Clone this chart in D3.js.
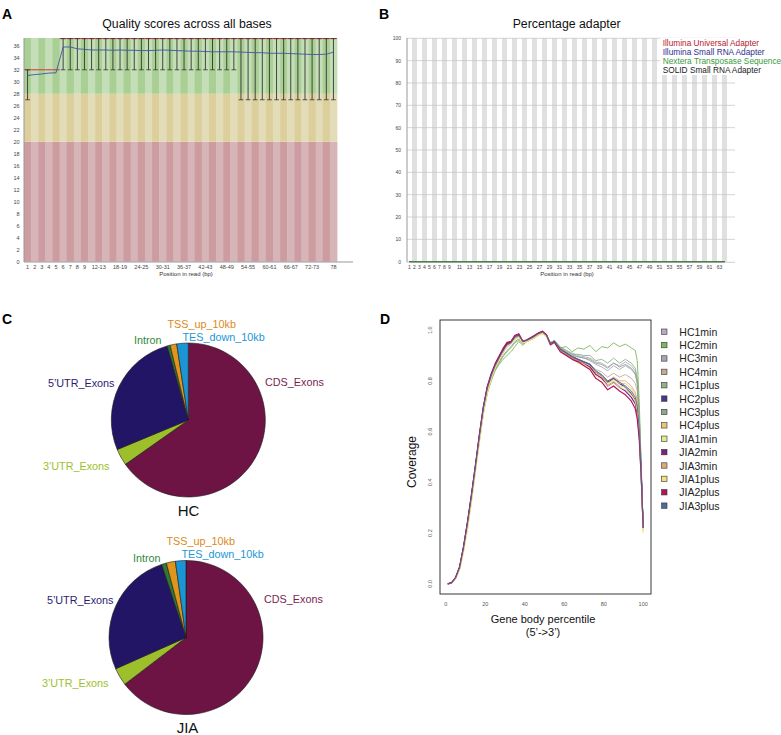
<!DOCTYPE html>
<html><head><meta charset="utf-8">
<script src="https://cdn.jsdelivr.net/npm/d3@7"></script>
<style>body{margin:0;background:#fff}svg{display:block;font-family:"Liberation Sans",Arial,Helvetica,sans-serif}</style>
</head><body><svg id="c" width="781" height="735"></svg>
<script>
// ---------------- DATA ----------------
// Panel A: per-base quality
const qBins = ["1","2","3","4","5","6","7","8","9","10-11","12-13","14-15","16-17","18-19","20-21","22-23","24-25","26-27","28-29","30-31","32-33","34-35","36-37","38-39","40-41","42-43","44-45","46-47","48-49","50-51","52-53","54-55","56-57","58-59","60-61","62-63","64-65","66-67","68-69","70-71","72-73","74-75","76-77","78"];
const qTickLabels = ["1","2","3","4","5","6","7","8","9","12-13","18-19","24-25","30-31","36-37","42-43","48-49","54-55","60-61","66-67","72-73","78"];
const qYTicks = [0,2,4,6,8,10,12,14,16,18,20,22,24,26,28,30,32,34,36];
const qMean = [31.05,31.2,31.3,31.45,31.5,35.8,35.8,35.5,35.4,35.3,35.3,35.3,35.25,35.3,35.25,35.25,35.2,35.2,35.25,35.3,35.25,35.2,35.15,35.1,35.1,35.05,35.0,35.0,35.0,35.0,34.95,34.9,34.85,34.85,34.75,34.75,34.75,34.7,34.65,34.6,34.55,34.55,34.6,34.95];
const qLow = [27,32,32,32,32,32,32,32,32,32,32,32,32,32,32,32,32,32,32,32,32,32,32,32,32,32,32,32,32,32,27,27,27,27,27,27,27,27,27,27,27,27,27,27];
const qHigh = [32,32,32,32,32,37.2,37.2,37.2,37.2,37.2,37.2,37.2,37.2,37.2,37.2,37.2,37.2,37.2,37.2,37.2,37.2,37.2,37.2,37.2,37.2,37.2,37.2,37.2,37.2,37.2,37.2,37.2,37.2,37.2,37.2,37.2,37.2,37.2,37.2,37.2,37.2,37.2,37.2,37.2];
const qMedian = [32,32,32,32,32,37.2,37.2,37.2,37.2,37.2,37.2,37.2,37.2,37.2,37.2,37.2,37.2,37.2,37.2,37.2,37.2,37.2,37.2,37.2,37.2,37.2,37.2,37.2,37.2,37.2,37.2,37.2,37.2,37.2,37.2,37.2,37.2,37.2,37.2,37.2,37.2,37.2,37.2,37.2];

// Panel B: adapter content
const adapterPositions = [1,2,3,4,5,6,7,8,9,10,11,12,13,14,15,16,17,18,19,20,21,22,23,24,25,26,27,28,29,30,31,32,33,34,35,36,37,38,39,40,41,42,43,44,45,46,47,48,49,50,51,52,53,54,55,56,57,58,59,60,61,62,63,64];
const adapterTickLabels = [1,2,3,4,5,6,7,8,9,11,13,15,17,19,21,23,25,27,29,31,33,35,37,39,41,43,45,47,49,51,53,55,57,59,61,63];
const adapterYTicks = [0,10,20,30,40,50,60,70,80,90,100];
const adapterNames = ["Illumina Universal Adapter","Illumina Small RNA Adapter","Nextera Transposase Sequence","SOLID Small RNA Adapter"];
const illuminaUniversal = [0,0,0,0,0,0,0,0,0,0,0,0,0,0,0,0,0,0,0,0,0,0,0,0,0,0,0,0,0,0,0,0,0,0,0,0,0,0,0,0,0,0,0,0,0,0,0,0,0,0,0,0,0,0,0,0,0,0,0,0,0,0,0,0];
const illuminaSmallRNA = [0,0,0,0,0,0,0,0,0,0,0,0,0,0,0,0,0,0,0,0,0,0,0,0,0,0,0,0,0,0,0,0,0,0,0,0,0,0,0,0,0,0,0,0,0,0,0,0,0,0,0,0,0,0,0,0,0,0,0,0,0,0,0,0];
const nexteraTransposase = [0,0,0,0,0,0,0,0,0,0,0,0,0,0,0,0,0,0,0,0,0,0,0,0,0,0,0,0,0,0,0,0,0,0,0,0,0,0,0,0,0,0,0,0,0,0,0,0,0,0,0,0,0,0,0,0,0,0,0,0,0,0,0,0];
const solidSmallRNA = [0,0,0,0,0,0,0,0,0,0,0,0,0,0,0,0,0,0,0,0,0,0,0,0,0,0,0,0,0,0,0,0,0,0,0,0,0,0,0,0,0,0,0,0,0,0,0,0,0,0,0,0,0,0,0,0,0,0,0,0,0,0,0,0];

// Panel C: read distribution
const pieCategories = ["CDS_Exons","3\u2019UTR_Exons","5\u2019UTR_Exons","Intron","TSS_up_10kb","TES_down_10kb"];
const hcShares = [65.1,3.5,26.8,0.6,1.4,2.4];
const jiaShares = [64.5,3.7,26.5,1.0,1.9,2.2];
const pieGroups = ["HC","JIA"];

// Panel D: gene body coverage
const percentile = [1,3,5,7,9,11,13,15,17,19,21,23,25,27,29,31,33,35,37,39,41,44,47,49,51,53,55,58,61,64,67,70,73,76,79,82,85,88,91,94,96,97,98,99,100];
const sampleNames = ["HC1min","HC2min","HC3min","HC4min","HC1plus","HC2plus","HC3plus","HC4plus","JIA1min","JIA2min","JIA3min","JIA1plus","JIA2plus","JIA3plus"];
const HC1min  = [0,0.005,0.024,0.063,0.142,0.236,0.343,0.458,0.575,0.685,0.765,0.815,0.855,0.885,0.915,0.94,0.95,0.97,0.975,0.955,0.96,0.97,0.985,0.99,0.98,0.95,0.96,0.935,0.92,0.91,0.9,0.895,0.89,0.875,0.87,0.855,0.87,0.86,0.875,0.86,0.84,0.8,0.66,0.45,0.22];
const HC2min  = [0,0.004,0.022,0.06,0.138,0.232,0.338,0.452,0.565,0.67,0.75,0.8,0.84,0.865,0.885,0.9,0.915,0.935,0.955,0.94,0.955,0.965,0.98,0.99,0.975,0.95,0.96,0.93,0.935,0.915,0.93,0.925,0.94,0.915,0.935,0.93,0.95,0.935,0.945,0.93,0.92,0.88,0.72,0.47,0.22];
const HC3min  = [0,0.005,0.024,0.064,0.143,0.238,0.345,0.46,0.578,0.688,0.768,0.818,0.858,0.888,0.915,0.94,0.948,0.97,0.978,0.955,0.96,0.972,0.986,0.992,0.98,0.95,0.958,0.93,0.915,0.905,0.895,0.89,0.88,0.865,0.855,0.84,0.86,0.845,0.86,0.845,0.825,0.79,0.65,0.45,0.22];
const HC4min  = [0,0.005,0.023,0.062,0.14,0.234,0.34,0.455,0.572,0.682,0.762,0.814,0.855,0.885,0.912,0.935,0.945,0.965,0.972,0.95,0.955,0.968,0.982,0.99,0.975,0.945,0.955,0.925,0.91,0.9,0.885,0.875,0.865,0.845,0.835,0.815,0.83,0.815,0.825,0.81,0.79,0.76,0.63,0.44,0.22];
const HC1plus = [0,0.004,0.022,0.06,0.138,0.232,0.338,0.452,0.568,0.675,0.755,0.805,0.845,0.87,0.895,0.915,0.93,0.95,0.96,0.945,0.955,0.965,0.98,0.99,0.975,0.95,0.958,0.93,0.92,0.905,0.905,0.9,0.9,0.88,0.885,0.87,0.89,0.87,0.885,0.87,0.85,0.81,0.67,0.46,0.22];
const HC2plus = [0,0.005,0.025,0.066,0.146,0.241,0.348,0.463,0.582,0.692,0.772,0.822,0.862,0.892,0.92,0.945,0.952,0.975,0.98,0.955,0.96,0.972,0.988,0.994,0.98,0.945,0.955,0.925,0.91,0.895,0.885,0.875,0.865,0.835,0.82,0.795,0.81,0.79,0.775,0.75,0.725,0.69,0.6,0.43,0.22];
const HC3plus = [0,0.004,0.023,0.061,0.14,0.234,0.34,0.455,0.57,0.678,0.758,0.808,0.848,0.875,0.9,0.92,0.935,0.955,0.965,0.948,0.955,0.966,0.982,0.99,0.976,0.948,0.956,0.93,0.915,0.9,0.895,0.89,0.885,0.87,0.865,0.85,0.87,0.855,0.865,0.85,0.83,0.795,0.66,0.45,0.22];
const HC4plus = [0,0.004,0.021,0.058,0.132,0.225,0.33,0.447,0.563,0.675,0.758,0.81,0.852,0.882,0.91,0.935,0.945,0.965,0.972,0.95,0.955,0.966,0.982,0.988,0.975,0.94,0.95,0.92,0.905,0.89,0.88,0.865,0.855,0.83,0.815,0.79,0.805,0.79,0.79,0.77,0.745,0.71,0.6,0.42,0.21];
const JIA1min = [0,0.004,0.021,0.057,0.13,0.222,0.327,0.444,0.56,0.672,0.756,0.81,0.852,0.882,0.912,0.936,0.945,0.965,0.972,0.95,0.955,0.966,0.98,0.986,0.974,0.94,0.95,0.92,0.905,0.89,0.875,0.865,0.85,0.825,0.81,0.785,0.8,0.78,0.775,0.755,0.73,0.695,0.59,0.42,0.21];
const JIA2min = [0,0.005,0.025,0.066,0.146,0.242,0.35,0.465,0.585,0.695,0.775,0.825,0.865,0.895,0.925,0.948,0.953,0.977,0.983,0.955,0.96,0.974,0.987,0.993,0.98,0.945,0.955,0.92,0.905,0.89,0.88,0.87,0.855,0.825,0.81,0.78,0.795,0.775,0.76,0.735,0.71,0.67,0.59,0.43,0.22];
const JIA3min = [0,0.004,0.022,0.06,0.135,0.228,0.334,0.45,0.567,0.678,0.76,0.812,0.854,0.884,0.913,0.937,0.946,0.966,0.974,0.952,0.956,0.968,0.983,0.99,0.976,0.942,0.952,0.92,0.905,0.89,0.88,0.87,0.86,0.835,0.82,0.8,0.815,0.8,0.8,0.78,0.755,0.72,0.61,0.43,0.22];
const JIA1plus = [0,0.004,0.02,0.055,0.125,0.215,0.32,0.44,0.555,0.668,0.753,0.808,0.852,0.882,0.912,0.936,0.944,0.964,0.972,0.95,0.954,0.965,0.98,0.985,0.974,0.94,0.95,0.915,0.9,0.885,0.87,0.86,0.845,0.82,0.805,0.78,0.795,0.775,0.765,0.745,0.72,0.68,0.57,0.41,0.2];
const JIA2plus = [0,0.005,0.026,0.068,0.148,0.245,0.353,0.468,0.588,0.698,0.778,0.828,0.868,0.898,0.928,0.952,0.956,0.98,0.986,0.956,0.962,0.975,0.99,0.996,0.982,0.942,0.952,0.915,0.9,0.885,0.875,0.86,0.845,0.81,0.795,0.765,0.78,0.76,0.745,0.72,0.69,0.65,0.57,0.42,0.22];
const JIA3plus = [0,0.005,0.025,0.065,0.145,0.24,0.347,0.462,0.58,0.69,0.77,0.82,0.86,0.89,0.918,0.943,0.95,0.974,0.98,0.955,0.96,0.972,0.987,0.993,0.98,0.945,0.955,0.925,0.91,0.895,0.885,0.875,0.865,0.84,0.825,0.8,0.81,0.795,0.78,0.76,0.735,0.7,0.61,0.44,0.22];
const coverageXTicks = [0,20,40,60,80,100];
const coverageYTicks = [0,0.2,0.4,0.6,0.8,1.0];

// ---------------- DRAW ----------------
const svg = d3.select("#c");
svg.append("rect").attr("width",781).attr("height",735).attr("fill","#fff");

// panel letters
[["A",2,18.5],["B",379,18.5],["C",2,323.5],["D",380,323.5]].forEach(([t,x,y])=>{
  svg.append("text").attr("x",x).attr("y",y).attr("font-size",14).attr("font-weight","bold").attr("fill","#000").text(t);
});

function styleTicks(sel, size){
  sel.select(".domain").remove();
  sel.selectAll("text").attr("font-size",size).style("fill","#444").attr("font-family","Liberation Sans, Arial");
}

// ===== Panel A =====
(function(){
  const g = svg.append("g");
  const x = d3.scaleBand().domain(qBins).range([24,337]);
  const y = d3.scaleLinear().domain([0,37.3]).range([261.7,38]);
  const bw = x.bandwidth();
  const zones = [
    {lo:0, hi:20, c:["#cd9ca1","#d7b4b8"]},
    {lo:20, hi:28, c:["#dccf9c","#e3dcb9"]},
    {lo:28, hi:37.3, c:["#a9cf94","#c4deb7"]}
  ];
  qBins.forEach((b,i)=>zones.forEach(z=>{
    g.append("rect").attr("x",x(b)).attr("width",bw+0.4)
     .attr("y",y(z.hi)).attr("height",y(z.lo)-y(z.hi)).attr("fill",z.c[i%2]);
  }));
  qBins.forEach((b,i)=>{
    const cx = x(b)+bw/2;
    g.append("line").attr("x1",x(b)).attr("x2",x(b)+bw).attr("y1",y(qMedian[i])).attr("y2",y(qMedian[i]))
      .attr("stroke","#d9303a").attr("stroke-width",1);
    if(qLow[i] < qHigh[i]){
      g.append("line").attr("x1",cx).attr("x2",cx).attr("y1",y(qLow[i])).attr("y2",y(qHigh[i]))
        .attr("stroke","#222").attr("stroke-width",0.8);
      [qLow[i],qHigh[i]].forEach(v=>{
        g.append("line").attr("x1",cx-bw*0.33).attr("x2",cx+bw*0.33).attr("y1",y(v)).attr("y2",y(v))
          .attr("stroke","#333").attr("stroke-width",0.8);
      });
    }
  });
  g.append("path").datum(qMean)
    .attr("d",d3.line().x((d,i)=>x(qBins[i])+bw/2).y(d=>y(d)))
    .attr("fill","none").attr("stroke","#3f55a8").attr("stroke-width",0.9);
  g.append("line").attr("x1",24).attr("x2",24).attr("y1",38).attr("y2",262).attr("stroke","#999");
  g.append("line").attr("x1",24).attr("x2",353).attr("y1",262).attr("y2",262).attr("stroke","#999");
  styleTicks(g.append("g").attr("transform","translate(24,0)")
    .call(d3.axisLeft(y).tickValues(qYTicks).tickSize(0).tickPadding(4.5)), 5.5);
  styleTicks(g.append("g").attr("transform","translate(0,262)")
    .call(d3.axisBottom(x).tickValues(qTickLabels).tickSize(0).tickPadding(3.5)), 5.5);
  g.append("text").attr("x",186).attr("y",274.3).attr("text-anchor","middle").attr("dominant-baseline","central")
    .attr("font-size",6).style("fill","#333").text("Position in read (bp)");
  g.append("text").attr("x",187).attr("y",24.3).attr("text-anchor","middle").attr("dominant-baseline","central")
    .attr("font-size",12.3).attr("fill","#111").text("Quality scores across all bases");
})();

// ===== Panel B =====
(function(){
  const g = svg.append("g");
  const x = d3.scaleBand().domain(adapterPositions).range([407,727]);
  const y = d3.scaleLinear().domain([0,100]).range([261.7,38.3]);
  const bw = x.bandwidth();
  adapterPositions.forEach((p,i)=>{
    if(i%2===1) g.append("rect").attr("x",x(p)).attr("width",bw).attr("y",38.3).attr("height",261.7-38.3).attr("fill","#e0e0e0");
  });
  adapterYTicks.forEach(t=>{
    if(t>0) g.append("line").attr("x1",407).attr("x2",735).attr("y1",y(t)).attr("y2",y(t)).attr("stroke","#c4c4c4").attr("stroke-width",0.7);
  });
  g.append("rect").attr("x",660).attr("y",38).attr("width",120).attr("height",37).attr("fill","#fff");
  const series = [illuminaUniversal, illuminaSmallRNA, solidSmallRNA, nexteraTransposase];
  const sColors = ["#c0282d","#2b2d8e","#222","#2d7d32"];
  series.forEach((s,k)=>{
    g.append("path").datum(s).attr("d",d3.line().x((d,i)=>x(adapterPositions[i])+bw/2).y(d=>y(d)))
      .attr("fill","none").attr("stroke",sColors[k]).attr("stroke-width",1.2);
  });
  g.append("line").attr("x1",407).attr("x2",407).attr("y1",38).attr("y2",262).attr("stroke","#999");
  g.append("line").attr("x1",407).attr("x2",735).attr("y1",262.3).attr("y2",262.3).attr("stroke","#bbb").attr("stroke-width",0.7);
  styleTicks(g.append("g").attr("transform","translate(407,0)")
    .call(d3.axisLeft(y).tickValues(adapterYTicks).tickSize(0).tickPadding(6)), 5);
  styleTicks(g.append("g").attr("transform","translate(0,262)")
    .call(d3.axisBottom(x).tickValues(adapterTickLabels).tickSize(0).tickPadding(3.5)), 5);
  g.append("text").attr("x",567).attr("y",274.3).attr("text-anchor","middle").attr("dominant-baseline","central")
    .attr("font-size",6).style("fill","#333").text("Position in read (bp)");
  g.append("text").attr("x",566.7).attr("y",24.3).attr("text-anchor","middle").attr("dominant-baseline","central")
    .attr("font-size",12.3).attr("fill","#111").text("Percentage adapter");
  const lColors = ["#b5202e","#2d2f8e","#3a9a42","#222"];
  adapterNames.forEach((n,i)=>{
    g.append("text").attr("x",662.7).attr("y",43.2+i*8.9).attr("dominant-baseline","central")
      .attr("font-size",8.3).attr("fill",lColors[i]).text(n);
  });
})();

// ===== Panel C =====
(function(){
  const colors = ["#6d1445","#9cbf2b","#231566","#2f7a34","#e0951d","#1b95d3"];
  const labelColors = ["#7a1e4f","#9cbf2b","#2a1c72","#2f8a3a","#d98a20","#1c97d6"];
  const layout = [
    {a:"start", dx:76.5, dy:-38.5},
    {a:"end", dx:-79, dy:45.5},
    {a:"end", dx:-74, dy:-37.5},
    {a:"end", dx:-27, dy:-80},
    {a:"start", dx:-21, dy:-96.5},
    {a:"start", dx:-6, dy:-83.5}
  ];
  const pies = [
    {vals:hcShares, cx:188.3, cy:420, lx:188.5, name:pieGroups[0], ny:510.7},
    {vals:jiaShares, cx:186, cy:637.5, lx:187.5, name:pieGroups[1], ny:727}
  ];
  const pie = d3.pie().sort(null).value(d=>d);
  const arc = d3.arc().innerRadius(0).outerRadius(77);
  pies.forEach(p=>{
    const g = svg.append("g").attr("transform",`translate(${p.cx},${p.cy})`);
    g.selectAll("path").data(pie(p.vals)).join("path").attr("d",arc)
      .attr("fill",(d,i)=>colors[i]).attr("stroke","#1a1a1a").attr("stroke-width",0.6);
    pieCategories.forEach((c,i)=>{
      svg.append("text").attr("x",p.lx+layout[i].dx).attr("y",p.cy+layout[i].dy)
        .attr("text-anchor",layout[i].a).attr("dominant-baseline","central")
        .attr("font-size",10.8).attr("fill",labelColors[i]).text(c);
    });
    svg.append("text").attr("x",p.lx).attr("y",p.ny).attr("text-anchor","middle").attr("dominant-baseline","central")
      .attr("font-size",15).attr("fill","#111").text(p.name);
  });
})();

// ===== Panel D =====
(function(){
  const g = svg.append("g");
  const x = d3.scaleLinear().domain([-2.96,103.96]).range([440,651]);
  const y = d3.scaleLinear().domain([-0.04,1.04]).range([594,320]);
  const data = [HC1min,HC2min,HC3min,HC4min,HC1plus,HC2plus,HC3plus,HC4plus,JIA1min,JIA2min,JIA3min,JIA1plus,JIA2plus,JIA3plus];
  const colors = ["#b9a7cb","#7ab95c","#a3a6b9","#c9a797","#8db489","#47388d","#8ea68b","#eec27c","#e3ea8d","#7b2181","#dca879","#f3e27b","#b3155c","#4e6b9b"];
  const line = d3.line().x((d,i)=>x(percentile[i])).y(d=>y(d));
  data.forEach((s,k)=>{
    g.append("path").datum(s).attr("d",line).attr("fill","none").attr("stroke",colors[k])
      .attr("stroke-width",(k===5||k===9||k===12)?1.2:0.9).attr("stroke-linejoin","round");
  });
  g.append("rect").attr("x",440).attr("y",320).attr("width",211).attr("height",274)
    .attr("fill","none").attr("stroke","#222").attr("stroke-width",0.9);
  coverageXTicks.forEach(t=>{
    g.append("text").attr("x",x(t)).attr("y",603.7).attr("text-anchor","middle").attr("dominant-baseline","central")
      .attr("font-size",5.5).attr("fill","#555").text(t);
  });
  coverageYTicks.forEach(t=>{
    g.append("text").attr("transform",`translate(430,${y(t)}) rotate(-90)`).attr("text-anchor","middle").attr("dominant-baseline","central")
      .attr("font-size",5.5).attr("fill","#555").text(t.toFixed(1));
  });
  g.append("text").attr("transform","translate(412,462) rotate(-90)").attr("text-anchor","middle").attr("dominant-baseline","central")
    .attr("font-size",12).attr("fill","#111").text("Coverage");
  g.append("text").attr("x",543).attr("y",619).attr("text-anchor","middle").attr("dominant-baseline","central")
    .attr("font-size",11).attr("fill","#111").text("Gene body percentile");
  g.append("text").attr("x",543).attr("y",632).attr("text-anchor","middle").attr("dominant-baseline","central")
    .attr("font-size",11).attr("fill","#111").text("(5\u2019->3\u2019)");
  sampleNames.forEach((n,i)=>{
    const yy = 331.7+i*13.38;
    g.append("rect").attr("x",661.6).attr("y",yy-2.7).attr("width",5.4).attr("height",5.4)
      .attr("fill",colors[i]).attr("stroke","#333").attr("stroke-width",0.6);
    g.append("text").attr("x",679.3).attr("y",yy).attr("dominant-baseline","central")
      .attr("font-size",10.5).attr("fill","#222").text(n);
  });
})();
</script></body></html>
